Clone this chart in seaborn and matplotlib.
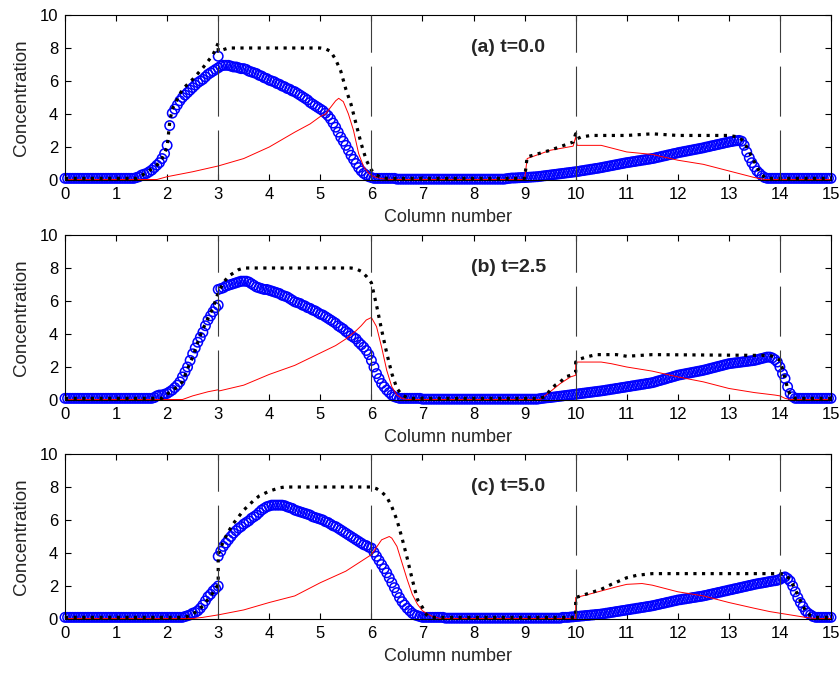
import numpy as np
import pandas as pd
import matplotlib
matplotlib.use("Agg")
import matplotlib.pyplot as plt
import seaborn as sns

# ---------------- data ----------------
x_ticks = list(range(0, 16))
y_ticks = [0, 2, 4, 6, 8, 10]
column_walls = [3, 6, 10, 14]
titles = ["(a) t=0.0", "(b) t=2.5", "(c) t=5.0"]

# x positions of the blue circles (0 .. 15, step 0.05)
x_grid = np.round(np.arange(301) * 0.05, 2)

blue_a = ([0.1] * 20
          + [0.1] * 8 + [0.15, 0.2, 0.3, 0.35, 0.4, 0.5, 0.6, 0.75, 0.9, 1.05, 1.3, 1.6]
          + [2.1, 3.3, 4.05, 4.3, 4.55, 4.8, 5.0, 5.15, 5.3, 5.45, 5.6, 5.75, 5.9, 6.0, 6.1, 6.25, 6.4, 6.5, 6.6, 6.7]
          + [6.8, 6.9, 6.95, 6.95, 6.95, 6.9, 6.85, 6.85, 6.8, 6.75, 6.75, 6.7, 6.6, 6.55, 6.5, 6.45, 6.35, 6.3, 6.2, 6.15]
          + [6.05, 6.0, 5.95, 5.85, 5.8, 5.7, 5.65, 5.55, 5.5, 5.4, 5.35, 5.25, 5.15, 5.05, 4.95, 4.85, 4.7, 4.6, 4.5, 4.4]
          + [4.3, 4.2, 4.05, 3.9, 3.7, 3.45, 3.2, 2.9, 2.6, 2.35, 2.1, 1.8, 1.5, 1.25, 1.0, 0.75, 0.55, 0.4, 0.3, 0.2]
          + [0.15] + [0.1] * 9 + [0.05] * 10
          + [0.05] * 20
          + [0.05] * 13 + [0.08, 0.1, 0.12, 0.12, 0.13, 0.14, 0.15]
          + [0.15, 0.16, 0.17, 0.18, 0.19, 0.2, 0.22, 0.24, 0.26, 0.28, 0.3, 0.32, 0.34, 0.36, 0.38, 0.4, 0.42, 0.44, 0.46, 0.48]
          + [0.5, 0.52, 0.55, 0.57, 0.6, 0.62, 0.65, 0.67, 0.7, 0.72, 0.75, 0.78, 0.81, 0.84, 0.87, 0.9, 0.93, 0.96, 0.99, 1.02]
          + [1.05, 1.07, 1.1, 1.12, 1.15, 1.17, 1.2, 1.22, 1.25, 1.27, 1.3, 1.33, 1.37, 1.4, 1.44, 1.47, 1.51, 1.54, 1.58, 1.61]
          + [1.65, 1.68, 1.71, 1.74, 1.77, 1.8, 1.83, 1.86, 1.89, 1.92, 1.95, 1.99, 2.02, 2.06, 2.09, 2.13, 2.16, 2.2, 2.23, 2.27]
          + [2.3, 2.33, 2.36, 2.38, 2.4, 2.35, 2.1, 1.7, 1.35, 1.05, 0.8, 0.55, 0.4, 0.25, 0.15] + [0.1] * 5
          + [0.1] * 20
          + [0.1])

blue_b = ([0.1] * 20
          + [0.1] * 15 + [0.15, 0.25, 0.3, 0.3, 0.35]
          + [0.4, 0.5, 0.6, 0.75, 0.9, 1.1, 1.4, 1.7, 2.0, 2.4, 2.8, 3.15, 3.5, 3.8, 4.1, 4.5, 4.85, 5.1, 5.35, 5.6]
          + [5.75, 6.75, 6.8, 6.9, 6.95, 7.0, 7.05, 7.1, 7.15, 7.2, 7.2, 7.2, 7.15, 7.05, 6.95, 6.85, 6.8, 6.75, 6.7, 6.7]
          + [6.65, 6.6, 6.55, 6.5, 6.45, 6.35, 6.3, 6.25, 6.15, 6.05, 5.95, 5.9, 5.85, 5.75, 5.7, 5.6, 5.55, 5.45, 5.4, 5.3]
          + [5.2, 5.15, 5.05, 4.95, 4.85, 4.75, 4.65, 4.5, 4.4, 4.3, 4.15, 4.05, 3.9, 3.8, 3.7, 3.5, 3.35, 3.2, 3.0, 2.75]
          + [2.4, 2.0, 1.6, 1.3, 1.0, 0.8, 0.6, 0.45, 0.3, 0.2, 0.15, 0.1] + [0.1] * 8
          + [0.05] * 20
          + [0.05] * 20
          + [0.05] * 6 + [0.08, 0.1, 0.12, 0.14, 0.15, 0.17, 0.19, 0.21, 0.23, 0.25, 0.27, 0.29, 0.31, 0.33]
          + [0.35, 0.37, 0.39, 0.41, 0.43, 0.45, 0.47, 0.49, 0.51, 0.53, 0.55, 0.57, 0.6, 0.62, 0.65, 0.67, 0.7, 0.72, 0.75, 0.77]
          + [0.8, 0.82, 0.85, 0.87, 0.9, 0.92, 0.95, 0.97, 1.0, 1.02, 1.05, 1.09, 1.14, 1.18, 1.23, 1.27, 1.32, 1.36, 1.41, 1.45]
          + [1.5, 1.53, 1.56, 1.59, 1.62, 1.65, 1.68, 1.71, 1.74, 1.77, 1.8, 1.84, 1.88, 1.92, 1.96, 2.0, 2.04, 2.08, 2.12, 2.16]
          + [2.2, 2.22, 2.24, 2.26, 2.28, 2.3, 2.32, 2.34, 2.36, 2.38, 2.4, 2.44, 2.48, 2.52, 2.56, 2.6, 2.6, 2.55, 2.45, 2.3]
          + [2.0, 1.6, 1.3, 0.8, 0.4, 0.2, 0.1] + [0.1] * 13
          + [0.1])

blue_c = ([0.1] * 20
          + [0.1] * 20
          + [0.1] * 7 + [0.15, 0.2, 0.25, 0.35, 0.4, 0.5, 0.65, 0.85, 1.1, 1.35, 1.5, 1.7, 1.85]
          + [2.0, 4.1, 4.4, 4.6, 4.8, 5.0, 5.2, 5.35, 5.5, 5.6, 5.75, 5.85, 5.95, 6.1, 6.2, 6.3, 6.45, 6.6, 6.7, 6.8]
          + [6.85, 6.9, 6.9, 6.9, 6.9, 6.9, 6.87, 6.8, 6.75, 6.7, 6.6, 6.55, 6.5, 6.45, 6.4, 6.35, 6.3, 6.2, 6.15, 6.1]
          + [6.05, 6.0, 5.9, 5.85, 5.75, 5.65, 5.6, 5.5, 5.4, 5.3, 5.2, 5.1, 5.0, 4.9, 4.8, 4.7, 4.6, 4.5, 4.45, 4.35]
          + [4.3, 4.05, 3.8, 3.55, 3.3, 3.05, 2.8, 2.5, 2.2, 1.9, 1.6, 1.3, 1.05, 0.85, 0.65, 0.5, 0.35, 0.25, 0.2, 0.15]
          + [0.1] * 9 + [0.05] * 11
          + [0.05] * 20
          + [0.05] * 15 + [0.1, 0.1, 0.1, 0.12, 0.13]
          + [0.15, 0.16, 0.18, 0.19, 0.21, 0.22, 0.24, 0.25, 0.27, 0.28, 0.3, 0.32, 0.35, 0.37, 0.4, 0.42, 0.45, 0.47, 0.5, 0.52]
          + [0.55, 0.57, 0.6, 0.62, 0.65, 0.67, 0.7, 0.72, 0.75, 0.77, 0.8, 0.83, 0.87, 0.9, 0.94, 0.97, 1.01, 1.04, 1.08, 1.11]
          + [1.15, 1.17, 1.2, 1.22, 1.25, 1.27, 1.3, 1.32, 1.35, 1.37, 1.4, 1.43, 1.47, 1.5, 1.54, 1.57, 1.61, 1.64, 1.68, 1.71]
          + [1.75, 1.78, 1.82, 1.85, 1.89, 1.92, 1.96, 1.99, 2.03, 2.06, 2.1, 2.13, 2.16, 2.18, 2.21, 2.24, 2.27, 2.3, 2.32, 2.35]
          + [2.4, 2.5, 2.55, 2.45, 2.3, 2.0, 1.65, 1.3, 1.0, 0.75, 0.5, 0.35, 0.25, 0.15, 0.1] + [0.1] * 5
          + [0.1])

# second value at the column wall x=3 (discontinuity)
blue_jump_x = [3.0, 3.0, 3.0]
blue_jump_y = [7.5, 6.7, 3.8]

red_a_x = [0, 1.8, 2.0, 2.5, 3.0, 3.5, 4.0, 4.5, 4.8, 5.0, 5.1, 5.2, 5.3, 5.36, 5.45, 5.55, 5.65, 5.75,
           5.85, 5.95, 6.05, 6.2, 6.4, 9.0, 9.05, 9.5, 9.95, 10.0, 10.03, 10.5, 11.0, 11.5, 12.0, 12.5,
           13.0, 13.5, 13.7, 15.0]
red_a_y = [0.03, 0.03, 0.2, 0.5, 0.85, 1.3, 2.0, 2.9, 3.4, 3.85, 4.0, 4.4, 4.8, 4.95, 4.75, 4.0, 3.0, 1.6,
           0.8, 0.4, 0.2, 0.08, 0.03, 0.03, 1.3, 1.8, 2.05, 2.6, 2.1, 2.1, 1.7, 1.55, 1.2, 0.95,
           0.55, 0.15, 0.03, 0.03]

red_b_x = [0, 2.3, 2.5, 2.8, 3.0, 3.02, 3.5, 4.0, 4.5, 5.0, 5.3, 5.5, 5.7, 5.8, 5.9, 6.0, 6.1, 6.2, 6.3,
           6.4, 6.5, 6.6, 6.7, 9.3, 9.5, 9.7, 9.9, 10.0, 10.0, 10.5, 10.7, 11.0, 11.5, 12.0, 12.5, 13.0,
           13.5, 13.9, 14.0, 14.1, 14.2, 15.0]
red_b_y = [0.03, 0.03, 0.25, 0.5, 0.62, 0.55, 0.9, 1.55, 2.1, 2.85, 3.3, 3.7, 4.2, 4.5, 4.85, 5.0, 4.45,
           3.2, 1.8, 0.8, 0.3, 0.1, 0.03, 0.03, 0.5, 1.0, 1.4, 1.5, 2.3, 2.3, 2.2, 2.0, 1.75, 1.4, 1.1,
           0.7, 0.45, 0.3, 0.25, 0.1, 0.03, 0.03]

red_c_x = [0, 2.5, 2.7, 3.0, 3.5, 4.0, 4.5, 5.0, 5.5, 5.8, 6.0, 6.2, 6.35, 6.4, 6.5, 6.6, 6.7, 6.8, 6.9,
           7.0, 7.1, 7.2, 7.35, 10.0, 10.0, 10.2, 10.5, 10.8, 11.0, 11.3, 11.5, 12.0, 12.5, 13.0, 13.5,
           13.8, 14.0, 14.3, 14.5, 14.7, 15.0]
red_c_y = [0.03, 0.03, 0.1, 0.25, 0.55, 1.0, 1.4, 2.2, 2.9, 3.5, 3.9, 4.8, 5.0, 4.9, 4.4, 3.4, 2.4, 1.5,
           0.9, 0.5, 0.3, 0.15, 0.03, 0.03, 1.3, 1.45, 1.7, 1.95, 2.1, 2.15, 2.05, 1.65, 1.4, 1.0, 0.65,
           0.45, 0.35, 0.2, 0.1, 0.03, 0.03]

black_a_x = [0, 1.4, 1.6, 1.8, 1.9, 2.0, 2.05, 2.1, 2.2, 2.3, 2.5, 2.7, 2.8, 2.9, 3.0, 3.0, 3.1, 3.2,
             5.0, 5.1, 5.2, 5.3, 5.4, 5.5, 5.6, 5.7, 5.8, 5.9, 6.0, 6.1, 6.2, 6.3, 9.0, 9.05, 9.5, 9.95,
             10.0, 10.03, 10.1, 10.3, 11.0, 11.5, 12.0, 13.0, 13.2, 13.3, 13.4, 13.5, 13.6, 13.7, 13.8, 15.0]
black_a_y = [0.1, 0.1, 0.45, 0.9, 1.3, 2.0, 3.5, 4.3, 4.9, 5.5, 6.1, 6.8, 7.2, 7.6, 8.3, 7.8, 7.9, 8.0,
             8.0, 7.95, 7.8, 7.3, 6.6, 5.5, 4.6, 3.4, 2.2, 1.2, 0.6, 0.3, 0.15, 0.1, 0.1, 1.4, 1.8, 2.3,
             2.8, 2.5, 2.6, 2.7, 2.7, 2.8, 2.7, 2.7, 2.6, 2.3, 1.7, 1.1, 0.5, 0.15, 0.1, 0.1]

black_b_x = [0, 1.9, 2.0, 2.2, 2.3, 2.4, 2.5, 2.6, 2.7, 2.8, 2.9, 3.0, 3.1, 3.2, 3.3, 3.4, 3.5, 5.6,
             5.7, 5.8, 5.9, 6.0, 6.1, 6.2, 6.3, 6.4, 6.5, 6.6, 6.7, 6.8, 9.3, 9.4, 9.5, 9.6, 9.7, 9.8,
             9.9, 10.0, 10.0, 10.1, 10.2, 10.4, 10.8, 11.0, 11.5, 13.8, 13.9, 14.0, 14.05, 14.1, 14.15,
             14.2, 14.3, 15.0]
black_b_y = [0.1, 0.1, 0.35, 0.8, 1.1, 1.9, 2.6, 3.5, 4.3, 4.95, 5.6, 6.5, 7.1, 7.5, 7.7, 7.9, 8.0, 8.0,
             7.95, 7.8, 7.5, 7.1, 5.75, 4.25, 2.85, 1.6, 0.7, 0.3, 0.15, 0.1, 0.1, 0.2, 0.6, 0.9, 1.1, 1.4,
             1.5, 1.7, 2.3, 2.5, 2.6, 2.75, 2.75, 2.65, 2.75, 2.7, 2.6, 2.4, 1.9, 1.3, 0.7,
             0.3, 0.1, 0.1]

black_c_x = [0, 2.3, 2.4, 2.5, 2.6, 2.7, 2.8, 2.9, 3.0, 3.0, 3.05, 3.1, 3.2, 3.3, 3.4, 3.5, 3.6, 3.7,
             3.8, 3.9, 4.0, 4.1, 4.2, 4.3, 6.0, 6.1, 6.2, 6.3, 6.4, 6.5, 6.6, 6.7, 6.8, 6.9, 7.0, 7.05,
             7.1, 7.2, 9.95, 10.0, 10.0, 10.1, 10.3, 10.5, 10.7, 11.0, 11.2, 11.5, 14.0, 14.1, 14.2, 14.3,
             14.4, 14.5, 14.6, 14.7, 15.0]
black_c_y = [0.1, 0.1, 0.15, 0.3, 0.5, 0.8, 1.2, 1.6, 2.1, 3.9, 4.3, 4.7, 5.3, 5.8, 6.2, 6.6, 6.9, 7.2,
             7.45, 7.6, 7.75, 7.85, 7.95, 8.0, 8.0, 7.9, 7.7, 7.4, 6.8, 6.0, 4.9, 3.7, 2.4, 1.2, 0.7, 0.35,
             0.2, 0.1, 0.1, 0.1, 1.3, 1.4, 1.6, 1.8, 2.1, 2.5, 2.65, 2.75, 2.75, 2.7, 2.4, 1.8,
             1.1, 0.5, 0.2, 0.1, 0.1]

blues = [blue_a, blue_b, blue_c]
reds = [(red_a_x, red_a_y), (red_b_x, red_b_y), (red_c_x, red_c_y)]
blacks = [(black_a_x, black_a_y), (black_b_x, black_b_y), (black_c_x, black_c_y)]
for b in blues:
    assert len(b) == len(x_grid), len(b)

# ---------------- style ----------------
sns.set_style("ticks")
plt.rcParams['font.family'] = ['Liberation Sans', 'DejaVu Sans']
plt.rcParams['axes.linewidth'] = 0.8

W, H = 840, 673
fig = plt.figure(figsize=(W / 100, H / 100), dpi=100)
fig.patch.set_facecolor('white')

# axes boxes in pixels (left, top, right, bottom)
boxes = [(65, 15, 831, 180), (65, 235, 831, 400), (65, 454, 831, 619)]

for i, (l, t, r, b) in enumerate(boxes):
    ax = fig.add_axes([l / W, 1 - b / H, (r - l) / W, (b - t) / H])
    ax.set_facecolor('white')

    bx = list(x_grid) + [blue_jump_x[i]]
    by = list(blues[i]) + [blue_jump_y[i]]
    sns.scatterplot(x=bx, y=by, ax=ax, marker='o', s=46, facecolor='none',
                    edgecolor=(0, 0, 1), linewidth=1.1, clip_on=False, zorder=2)

    rx, ry = reds[i]
    sns.lineplot(x=rx, y=ry, ax=ax, color=(1, 0, 0), linewidth=0.7, sort=False,
                 estimator=None, zorder=3)

    kx, ky = blacks[i]
    sns.lineplot(x=kx, y=ky, ax=ax, color='black', linewidth=2.3, sort=False,
                 estimator=None, zorder=4)
    ax.lines[-1].set_linestyle((0, (1.0, 1.7)))

    for cw in column_walls:
        ax.axvline(cw, color='#3c3c3c', linewidth=0.8, linestyle=(0, (45, 12.5)), zorder=5)

    ax.set_xlim(0, 15)
    ax.set_ylim(0, 10)
    ax.set_xticks(x_ticks)
    ax.set_yticks(y_ticks)
    ax.tick_params(direction='in', top=True, right=True, length=4, width=0.8,
                   labelsize=12, colors='black', pad=5)
    for sp in ax.spines.values():
        sp.set_visible(True)
        sp.set_color('black')
    ax.set_xlabel('Column number', fontsize=13, labelpad=5)
    ax.set_ylabel('Concentration', fontsize=13.5, labelpad=7)
    ax.text(7.95, 8.0, titles[i], fontsize=14, fontweight='bold', va='center', ha='left')

fig.savefig('out.png', dpi=100, facecolor='white')
